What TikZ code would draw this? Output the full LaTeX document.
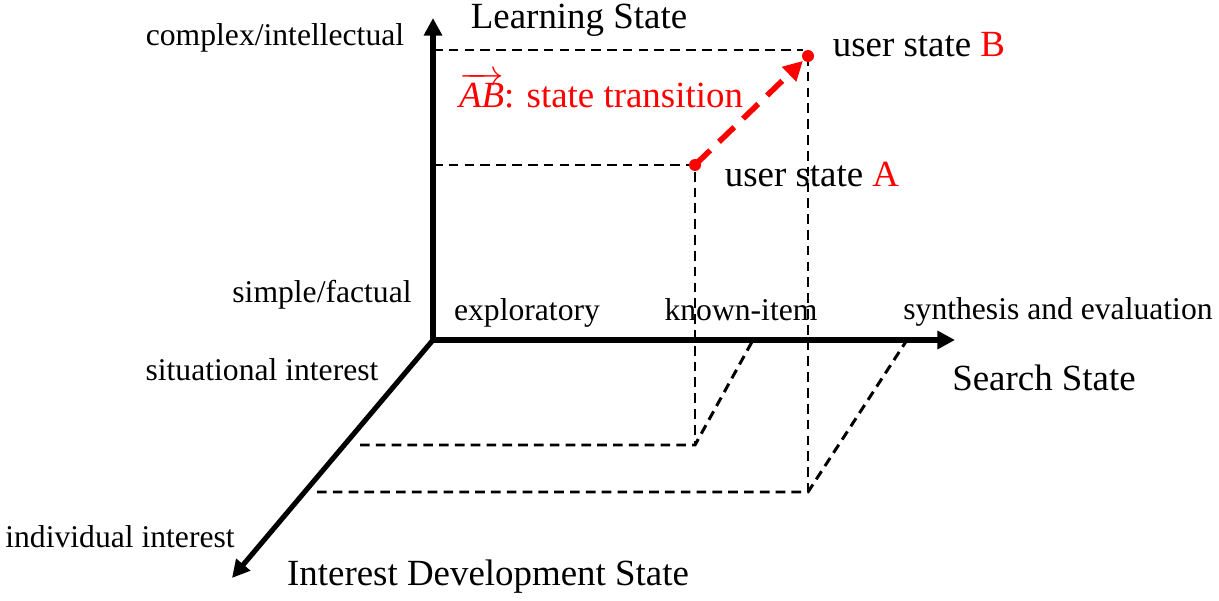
\documentclass[tikz,border=0pt]{standalone}
\usepackage{fontspec}
\setmainfont{Liberation Serif}
\usetikzlibrary{arrows.meta}
\tikzstyle{every picture}=[semithick,>={Triangle[length=10pt,width=10pt]}]
\tikzstyle{axis}=[line width=2.9pt,->]
\tikzstyle{guide}=[line width=1.7pt,dash pattern=on 5.5pt off 3.5pt]
\tikzstyle{move}=[red,line width=3.2pt,dash pattern=on 12pt off 7pt,
  -{Triangle[length=11pt,width=11pt]},shorten >=4pt]
\tikzstyle{biglabel}=[font=\fontsize{21}{25}\selectfont,inner sep=1pt]
\tikzstyle{smalllabel}=[font=\fontsize{18}{22}\selectfont,inner sep=1pt]

\begin{document}
\begin{tikzpicture}
    \useasboundingbox (0,0) rectangle (24.38,12);

    % axes
    \coordinate (O) at (8.66,5.2);
    \coordinate (learn) at (8.66,11.64);
    \coordinate (search) at (19.1,5.2);
    \coordinate (interest) at (4.64,0.44);
    \draw[axis] (O) -- (learn);
    \draw[axis] (O) -- (search);
    \draw[axis] (O) -- (interest);

    % user states
    \coordinate (A) at (13.9,8.7);
    \coordinate (B) at (16.16,10.88);

    % projections of A
    \coordinate (Ay) at (8.66,8.7);
    \coordinate (Afloor) at (13.9,3.1);
    \coordinate (Az) at (7.2,3.1);
    \coordinate (Ax) at (15.06,5.2);
    \draw[guide] (Ay) -- (A) -- (Afloor);
    \draw[guide] (Az) -- (Afloor) -- (Ax);

    % projections of B
    \coordinate (By) at (8.66,11.0);
    \coordinate (Btop) at (16.06,11.0);
    \coordinate (Bfloor) at (16.16,2.16);
    \coordinate (Bz) at (6.34,2.16);
    \coordinate (Bx) at (18.14,5.2);
    \draw[guide] (By) -- (Btop);
    \draw[guide] (B) -- (Bfloor);
    \draw[guide] (Bz) -- (Bfloor) -- (Bx);

    % transition
    \draw[move] (A) -- (B);
    \fill[red] (A) circle (0.12);
    \fill[red] (B) circle (0.12);

    % axis titles
    \node[biglabel] (learntitle) at (11.58,11.6) {Learning State};
    \node[biglabel] (searchtitle) at (20.88,4.44) {Search State};
    \node[biglabel] (interesttitle) at (9.76,0.46) {Interest Development State};

    % levels
    \node[smalllabel] (complex) at (5.5,11.24) {complex/intellectual};
    \node[smalllabel] (simple) at (6.44,6.1) {simple/factual};
    \node[smalllabel] (explor) at (10.54,5.74) {exploratory};
    \node[smalllabel] (known) at (14.82,5.8) {known-item};
    \node[smalllabel] (synth) at (21.16,5.76) {synthesis and evaluation};
    \node[smalllabel] (situ) at (5.24,4.6) {situational interest};
    \node[smalllabel] (indiv) at (2.4,1.26) {individual interest};

    % states
    \node[biglabel] (labelA) at (16.24,8.5) {user state \textcolor{red}{A}};
    \node[biglabel] (labelB) at (18.38,11.1) {user state \textcolor{red}{B}};
    \node[biglabel,red,inner sep=0pt] (trans) at (12.02,10.2)
        {$\overrightarrow{\textit{AB}}$: state transition};
\end{tikzpicture}
\end{document}
